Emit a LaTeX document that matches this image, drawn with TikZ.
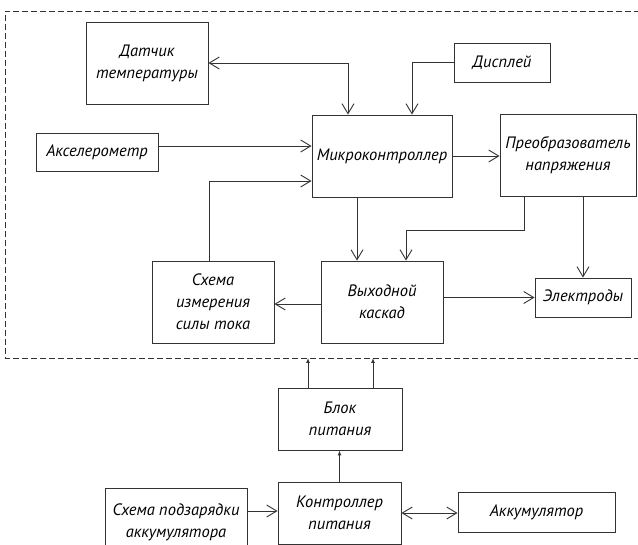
\documentclass[tikz,border=0pt]{standalone}
\usepackage{fontspec}
\setmainfont{PT Sans}
\usetikzlibrary{arrows.meta}
\definecolor{ln}{HTML}{333333}
\tikzset{
  box/.style={draw=ln, line width=0.9pt, align=center, inner sep=1pt,
    font=\itshape\fontsize{16.5}{22}\selectfont, text=black},
  conn/.style={draw=ln, line width=0.9pt},
  barb/.style={-{Straight Barb[length=10pt,width=12pt,line width=0.9pt]}},
  dbarb/.style={{Straight Barb[length=10pt,width=12pt,line width=0.9pt]}-{Straight Barb[length=10pt,width=12pt,line width=0.9pt]}},
  tiny/.style={-{Latex[length=5pt,width=4pt]}},
  frame/.style={draw=ln, line width=0.9pt, dash pattern=on 6pt off 3pt}
}
\begin{document}
\begin{tikzpicture}[x=1pt,y=-1pt]
\useasboundingbox (0,0) rectangle (638,545);
% frame
\coordinate (ftl) at (5,11);
\coordinate (fbl) at (5,358);
\draw[frame] (640,11) -- (ftl) -- (fbl) -- (640,358);
% nodes
\node[box, minimum width=122, minimum height=82] (dt) at (147,63) {Датчик\\температуры};
\node[box, minimum width=96, minimum height=39] (dsp) at (502,62.5) {Дисплей};
\node[box, minimum width=122, minimum height=38] (acc) at (97,152) {Акселерометр};
\node[box, minimum width=140, minimum height=82] (mc) at (382,156) {Микроконтроллер};
\node[box, minimum width=136, minimum height=82] (pr) at (568,155) {Преобразователь\\напряжения};
\node[box, minimum width=122, minimum height=82] (sch) at (213,302) {Схема\\измерения\\силы тока};
\node[box, minimum width=122, minimum height=82] (out) at (382,302) {Выходной\\каскад};
\node[box, minimum width=96, minimum height=39] (el) at (583,297.5) {Электроды};
\node[box, minimum width=124, minimum height=62] (bp) at (340,419) {Блок\\питания};
\node[box, minimum width=123, minimum height=62] (kp) at (339.5,513) {Контроллер\\питания};
\node[box, minimum width=142, minimum height=68] (chg) at (176,522) {Схема подзарядки\\аккумулятора};
\node[box, minimum width=157, minimum height=40] (akk) at (536.5,512) {Аккумулятор};
% connectors
\draw[conn, dbarb] ([xshift=-34pt]mc.north) |- (dt.east);
\draw[conn, barb] (dsp.west) -| ([xshift=30pt]mc.north);
\draw[conn, barb] ([yshift=6pt]acc.east) -- ([yshift=6pt]acc.east -| mc.west);
\draw[conn, barb] ([xshift=-4pt]sch.north) |- ([yshift=-25pt]mc.west);
\draw[conn, barb] (mc.east) -- (mc.east -| pr.west);
\draw[conn, barb] ([xshift=-25pt]mc.south) -- ([xshift=-25pt]mc.south |- out.north);
\draw[conn, barb] ([xshift=-44pt]pr.south) -- ++(0,34) -| ([xshift=24pt]out.north);
\draw[conn, barb] (el.north |- pr.south) -- (el.north);
\draw[conn, barb] ([yshift=-2pt]out.west) -- ([yshift=-2pt]sch.east);
\draw[conn, barb] (out.east |- el.west) -- (el.west);
\draw[conn, tiny] ([xshift=-32pt]bp.north) -- ([xshift=-32pt]bp.north |- fbl);
\draw[conn, tiny] ([xshift=33pt]bp.north) -- ([xshift=33pt]bp.north |- fbl);
\draw[conn, tiny] (kp.north) -- (kp.north |- bp.south);
\draw[conn, barb] ([yshift=11pt]chg.east) -- ([yshift=11pt]chg.east -| kp.west);
\draw[conn, dbarb] (kp.east) -- (kp.east -| akk.west);
\end{tikzpicture}
\end{document}
